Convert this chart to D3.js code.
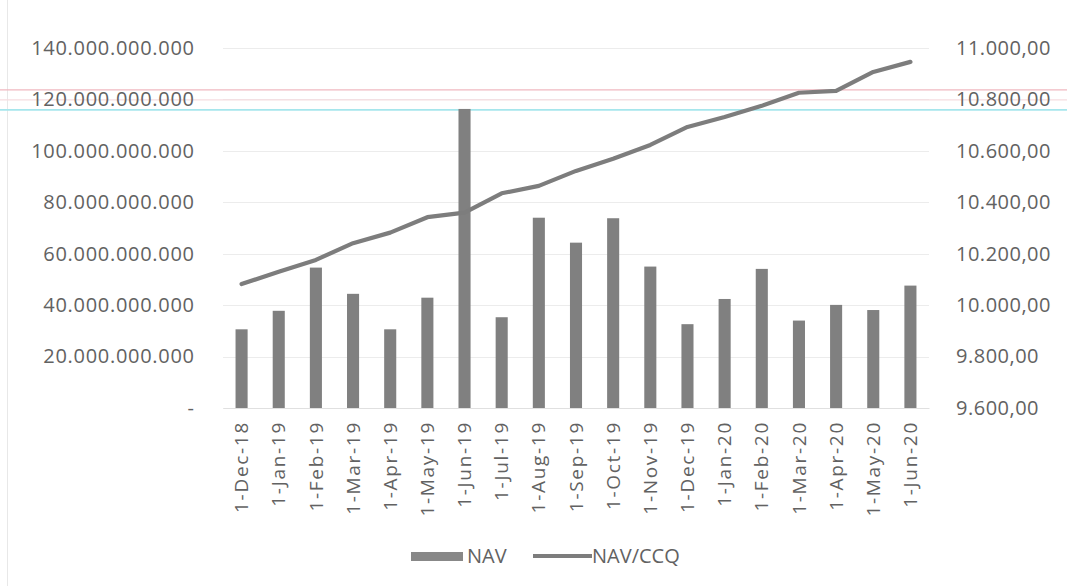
<!DOCTYPE html>
<html><head><meta charset="utf-8">
<script src="https://cdn.jsdelivr.net/npm/d3@7"></script>
<style>html,body{margin:0;padding:0;background:#fff;}svg{display:block;}</style>
</head><body>
<svg id="c" width="1067" height="586"></svg>
<script>
const categories = ["1-Dec-18","1-Jan-19","1-Feb-19","1-Mar-19","1-Apr-19","1-May-19","1-Jun-19","1-Jul-19","1-Aug-19","1-Sep-19","1-Oct-19","1-Nov-19","1-Dec-19","1-Jan-20","1-Feb-20","1-Mar-20","1-Apr-20","1-May-20","1-Jun-20"];
const navValues = [30.6e9,37.8e9,54.6e9,44.4e9,30.6e9,42.9e9,116.3e9,35.3e9,74.0e9,64.3e9,73.8e9,55.0e9,32.6e9,42.4e9,54.1e9,34.0e9,40.1e9,38.1e9,47.6e9];
const navCcqValues = [10082,10130,10176,10241,10282,10342,10360,10435,10464,10522,10569,10623,10693,10732,10775,10826,10833,10907,10946];
const leftTicks = [0,20e9,40e9,60e9,80e9,100e9,120e9,140e9];
const rightTicks = [9600,9800,10000,10200,10400,10600,10800,11000];
const seriesNames = ["NAV","NAV/CCQ"];
// faint scan-artifact lines (in right-axis units)
const artifactPink = [10837,10798];
const artifactCyan = [10759];

const svg = d3.select("#c");
const W = 1067, H = 586;
const m = {l:223, r:W-929, t:48, b:H-408};
const font = "'Open Sans', sans-serif";
const txt = "#626262";

// border artifacts
svg.append("line").attr("x1",7.5).attr("x2",7.5).attr("y1",0).attr("y2",H).attr("stroke","#e8e8e8");

const x = d3.scaleBand().domain(categories).range([m.l, W-m.r]).paddingInner(0.675).paddingOuter(0.3375);
const yL = d3.scaleLinear().domain([0,140e9]).range([H-m.b, m.t]);
const yR = d3.scaleLinear().domain([9600,11000]).range([H-m.b, m.t]);

// gridlines
svg.append("g").selectAll("line").data(leftTicks).join("line")
  .attr("x1",m.l).attr("x2",W-m.r)
  .attr("y1",d=>Math.round(yL(d))+0.5).attr("y2",d=>Math.round(yL(d))+0.5)
  .attr("stroke","#ececec").attr("stroke-width",1);

// artifacts
svg.append("g").selectAll("line").data(artifactPink).join("line")
  .attr("x1",0).attr("x2",W).attr("y1",d=>yR(d)).attr("y2",d=>yR(d))
  .attr("stroke",(d,i)=>i===0?"#f0b8c0":"#f6dde0").attr("stroke-width",1.3);
svg.append("g").selectAll("line").data(artifactCyan).join("line")
  .attr("x1",0).attr("x2",W).attr("y1",d=>yR(d)).attr("y2",d=>yR(d))
  .attr("stroke","#a6e6ec").attr("stroke-width",1.8);

// bars
svg.append("g").selectAll("rect").data(navValues).join("rect")
  .attr("x",(d,i)=>x(categories[i])).attr("width",x.bandwidth())
  .attr("y",d=>yL(d)).attr("height",d=>yL(0)-yL(d))
  .attr("fill","#808080");

// line
const line = d3.line().x((d,i)=>x(categories[i])+x.bandwidth()/2).y(d=>yR(d));
svg.append("path").datum(navCcqValues).attr("d",line)
  .attr("fill","none").attr("stroke","#7d7d7d").attr("stroke-width",4.2)
  .attr("stroke-linejoin","round").attr("stroke-linecap","round");

// left axis
const fmtL = v => v===0 ? "-" : d3.format(",")(v).replace(/,/g,".");
const axL = d3.axisLeft(yL).tickValues(leftTicks).tickFormat(fmtL).tickSize(0).tickPadding(0);
const gL = svg.append("g").attr("transform",`translate(194.7,0)`).call(axL);
gL.select(".domain").remove();
gL.selectAll("text").attr("font-family",font).attr("font-size",20).attr("fill",txt).attr("letter-spacing","0.7px");

// right axis
const fmtR = v => { const s = d3.format(",.2f")(v); return s.replace(/,/g,"#").replace(/\./g,",").replace(/#/g,"."); };
const axR = d3.axisRight(yR).tickValues(rightTicks).tickFormat(fmtR).tickSize(0).tickPadding(0);
const gR = svg.append("g").attr("transform",`translate(956,0)`).call(axR);
gR.select(".domain").remove();
gR.selectAll("text").attr("font-family",font).attr("font-size",20).attr("fill",txt).attr("letter-spacing","0.5px");

// x axis
const axX = d3.axisBottom(x).tickSize(0).tickPadding(0);
const gX = svg.append("g").attr("transform",`translate(0,${H-m.b})`).call(axX);
gX.select(".domain").attr("stroke","#e0e0e0");
gX.selectAll("text").attr("font-family",font).attr("font-size",19).attr("fill",txt).attr("letter-spacing","1.7px")
  .attr("transform","rotate(-90)").attr("text-anchor","end").attr("dy","0.35em").attr("x",-13).attr("y",0);

// legend
const lg = svg.append("g").attr("font-family",font).attr("font-size",20).attr("fill",txt);
lg.append("rect").attr("x",411).attr("y",552).attr("width",52).attr("height",9).attr("fill","#888");
lg.append("text").attr("x",467).attr("y",556).attr("dy","0.35em").text(seriesNames[0]).attr("fill",txt);
lg.append("line").attr("x1",533).attr("x2",592).attr("y1",556).attr("y2",556).attr("stroke","#7d7d7d").attr("stroke-width",4);
lg.append("text").attr("x",592).attr("y",556).attr("dy","0.35em").text(seriesNames[1]).attr("fill",txt);
</script>
</body></html>
